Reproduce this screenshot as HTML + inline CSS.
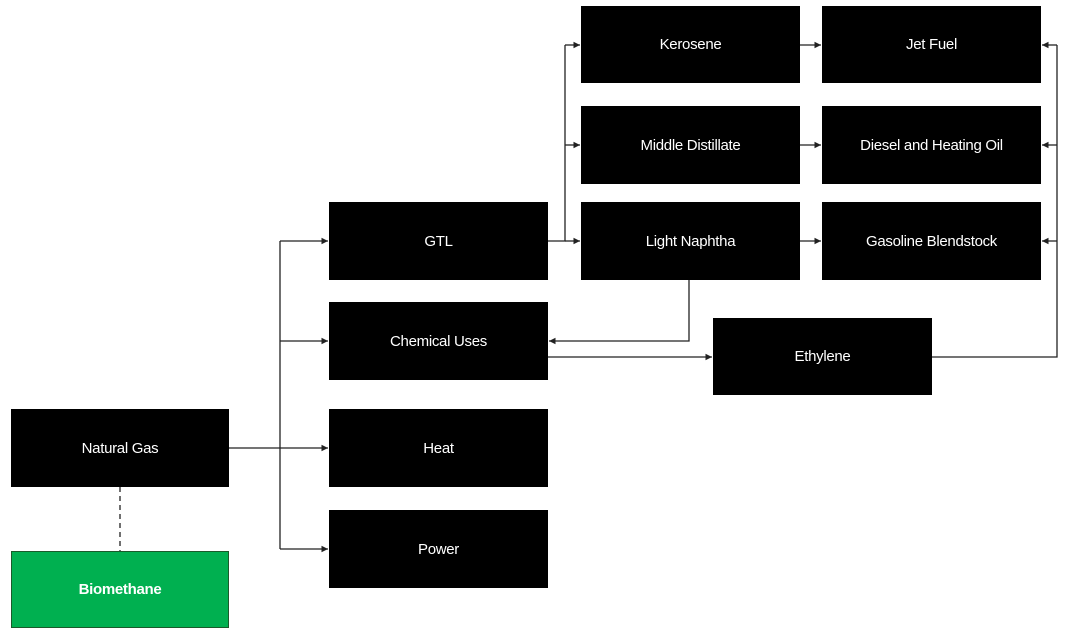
<!DOCTYPE html>
<html><head><meta charset="utf-8"><style>
html,body{margin:0;padding:0;background:#fff;width:1089px;height:637px;overflow:hidden;}
.b{position:absolute;background:#000;color:#fff;font-family:"Liberation Sans",sans-serif;font-size:15px;display:flex;align-items:center;justify-content:center;letter-spacing:-0.3px;}
svg{position:absolute;left:0;top:0;}
</style></head><body>
<svg width="1089" height="637">
<defs><marker id="a" markerWidth="6" markerHeight="6" refX="5" refY="3" orient="auto"><path d="M0,0.5 L5,3 L0,5.5z" fill="#222"/></marker></defs>
<g stroke="#222" stroke-width="1.3" fill="none">
<path d="M229,448H280"/>
<path d="M280,241V549"/>
<path d="M280,241H328" marker-end="url(#a)"/>
<path d="M280,341H328" marker-end="url(#a)"/>
<path d="M280,448H328" marker-end="url(#a)"/>
<path d="M280,549H328" marker-end="url(#a)"/>
<path d="M548,241H565V45"/>
<path d="M565,45H580" marker-end="url(#a)"/>
<path d="M565,145H580" marker-end="url(#a)"/>
<path d="M565,241H580" marker-end="url(#a)"/>
<path d="M800,45H821" marker-end="url(#a)"/>
<path d="M800,145H821" marker-end="url(#a)"/>
<path d="M800,241H821" marker-end="url(#a)"/>
<path d="M932,357H1057V45"/>
<path d="M1057,45H1042" marker-end="url(#a)"/>
<path d="M1057,145H1042" marker-end="url(#a)"/>
<path d="M1057,241H1042" marker-end="url(#a)"/>
<path d="M689,280V341H549" marker-end="url(#a)"/>
<path d="M548,357H712" marker-end="url(#a)"/>
<path d="M120,487V551" stroke-dasharray="5,4"/>
</g>
</svg>
<div class="b" style="left:581px;top:6px;width:219px;height:77px">Kerosene</div>
<div class="b" style="left:822px;top:6px;width:219px;height:77px">Jet Fuel</div>
<div class="b" style="left:581px;top:106px;width:219px;height:78px">Middle Distillate</div>
<div class="b" style="left:822px;top:106px;width:219px;height:78px">Diesel and Heating Oil</div>
<div class="b" style="left:581px;top:202px;width:219px;height:78px">Light Naphtha</div>
<div class="b" style="left:822px;top:202px;width:219px;height:78px">Gasoline Blendstock</div>
<div class="b" style="left:329px;top:202px;width:219px;height:78px">GTL</div>
<div class="b" style="left:329px;top:302px;width:219px;height:78px">Chemical Uses</div>
<div class="b" style="left:713px;top:318px;width:219px;height:77px">Ethylene</div>
<div class="b" style="left:11px;top:409px;width:218px;height:78px">Natural Gas</div>
<div class="b" style="left:329px;top:409px;width:219px;height:78px">Heat</div>
<div class="b" style="left:329px;top:510px;width:219px;height:78px">Power</div>
<div class="b" style="left:11px;top:551px;width:216px;height:75px;background:#00b050;border:1px solid #1a5a2a;font-weight:bold;">Biomethane</div>
</body></html>
